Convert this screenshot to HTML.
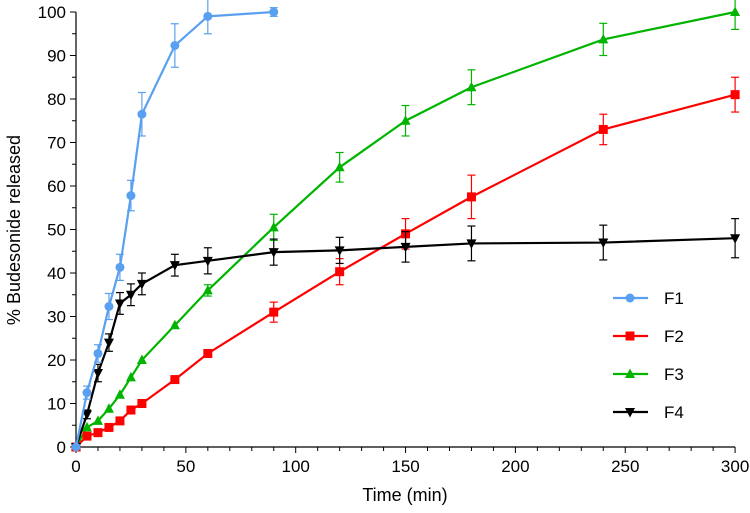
<!DOCTYPE html>
<html><head><meta charset="utf-8"><style>body{margin:0;background:#fff}svg{display:block}text{font-family:"Liberation Sans",sans-serif}</style></head>
<body>
<svg id="chart" width="750" height="513"></svg>
<script>
const times=[0,5,10,15,20,25,30,45,60,90,120,150,180,240,300];
const f1=[0,12.5,21.5,32.3,41.3,57.8,76.5,92.3,99,100];
const f1e=[0,1.5,2,3,3,3.5,5,5,4,1];
const f2=[0,2.5,3.3,4.5,6,8.5,10,15.5,21.5,31,40.3,49,57.5,73,81];
const f2e=[0,0.5,0.5,0.5,0.5,0.5,0.5,0.5,0.8,2.3,3,3.5,5,3.5,4];
const f3=[0,4.5,6,8.8,12,16,20,28,36,50.5,64.3,75,82.7,93.7,100];
const f3e=[0,0.5,0.5,0.5,0.5,0.5,0.5,0.5,1.3,3,3.4,3.5,4,3.7,4];
const f4=[0,7.5,17,24,33,35,37.5,41.8,42.8,44.8,45.2,46,46.8,47,48];
const f4e=[0,1,2,2,2.5,2.5,2.5,2.5,3,3,3,3.5,4,4,4.5];
const xTicks=[0,50,100,150,200,250,300];
const yTicks=[0,10,20,30,40,50,60,70,80,90,100];
const svg=document.getElementById('chart');const NS='http://www.w3.org/2000/svg';
const X=v=>76+v*2.197, Y=v=>447-v*4.35;
function el(t,a,p){const e=document.createElementNS(NS,t);for(const k in a)e.setAttribute(k,a[k]);(p||svg).appendChild(e);return e;}
const ax=el('g',{});


el('line',{x1:76,y1:Y(100),x2:76,y2:447,stroke:'#000','stroke-width':1.2},ax);
el('line',{x1:76,y1:447,x2:X(300),y2:447,stroke:'#000','stroke-width':1.2},ax);
for(let v=0;v<=100;v+=5){el('line',{x1:v%10?72:70,y1:Y(v),x2:76,y2:Y(v),stroke:'#000'},ax);}
for(let v=0;v<=300;v+=10){el('line',{x1:X(v),y1:447,x2:X(v),y2:v%50?451:453,stroke:'#000'},ax);}
yTicks.forEach(v=>{const t=el('text',{x:66,y:Y(v)+6,'text-anchor':'end','font-size':17},ax);t.textContent=v;

});
xTicks.forEach(v=>{const t=el('text',{x:X(v),y:472,'text-anchor':'middle','font-size':17},ax);t.textContent=v;

});
let t=el('text',{x:405,y:501,'text-anchor':'middle','font-size':18});t.textContent='Time (min)';


t=el('text',{x:0,y:0,'text-anchor':'middle','font-size':18,transform:'translate(20,230) rotate(-90)'});t.textContent='% Budesonide released';


function marker(g,type,x,y,c){
 if(type==='c')el('circle',{cx:x,cy:y,r:4.5,fill:c},g);
 else if(type==='s')el('rect',{x:x-4.5,y:y-4.5,width:9,height:9,fill:c},g);
 else if(type==='t')el('polygon',{points:`${x},${y-5.5} ${x-5},${y+4} ${x+5},${y+4}`,fill:c},g);
 else el('polygon',{points:`${x},${y+5.5} ${x-5},${y-4} ${x+5},${y-4}`,fill:c},g);
}
function series(name,vals,errs,c,type){
 const g=el('g',{});
 
 
 vals.forEach((v,i)=>{const e=errs[i];if(e>0.6){const x=X(times[i]);
  el('line',{x1:x,y1:Y(v-e),x2:x,y2:Y(v+e),stroke:c,'stroke-width':1.2},g);
  el('line',{x1:x-4,y1:Y(v-e),x2:x+4,y2:Y(v-e),stroke:c,'stroke-width':1.2},g);
  el('line',{x1:x-4,y1:Y(v+e),x2:x+4,y2:Y(v+e),stroke:c,'stroke-width':1.2},g);}});
 el('polyline',{points:vals.map((v,i)=>X(times[i])+','+Y(v)).join(' '),fill:'none',stroke:c,'stroke-width':2.2},g);
 vals.forEach((v,i)=>marker(g,type,X(times[i]),Y(v),c));
}
series('f3',f3,f3e,'#00b400','t');
series('f2',f2,f2e,'#ff0000','s');
series('f4',f4,f4e,'#000000','d');
series('f1',f1,f1e,'#5aa0f0','c');
const leg=[['F1','#5aa0f0','c',298],['F2','#ff0000','s',336],['F3','#00b400','t',374],['F4','#000000','d',412]];
leg.forEach(l=>{const g=el('g',{});
 
 
 el('line',{x1:613,y1:l[3],x2:648,y2:l[3],stroke:l[1],'stroke-width':2.2},g);
 marker(g,l[2],630,l[3],l[1]);
 const tt=el('text',{x:664,y:l[3]+6,'font-size':17},g);tt.textContent=l[0];});
</script>
</body></html>
